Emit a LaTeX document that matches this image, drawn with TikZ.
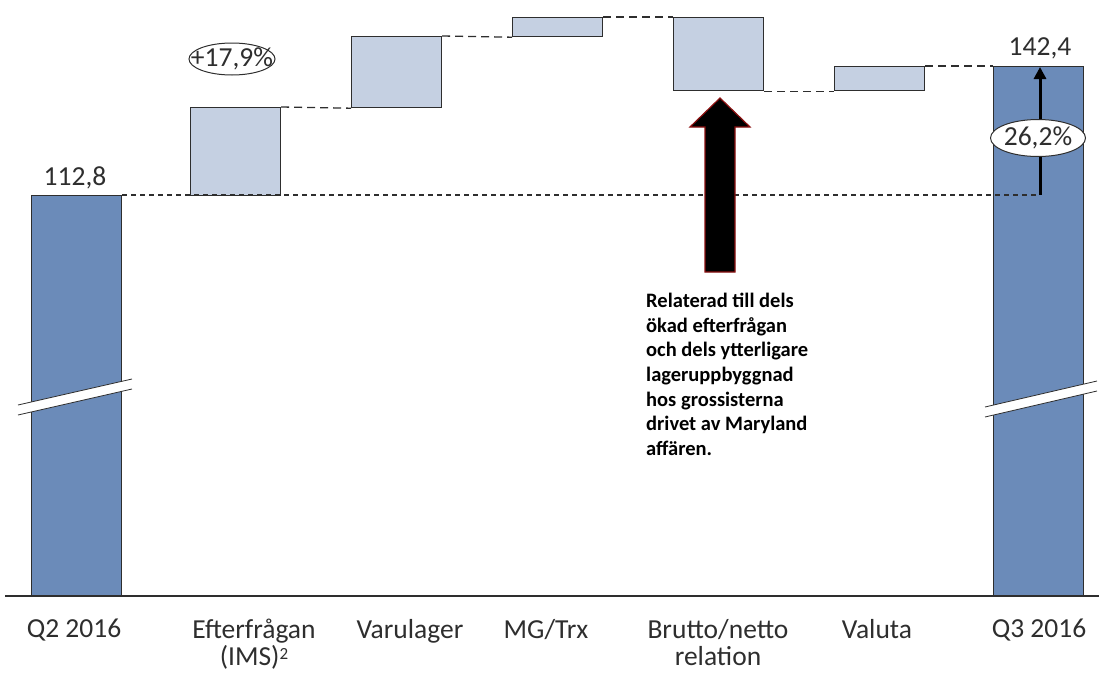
\documentclass[tikz,border=0pt]{standalone}
\usepackage{fontspec}
\setmainfont{Carlito}
\usetikzlibrary{shapes.geometric,arrows.meta}
\definecolor{darkbar}{HTML}{6B8BB9}
\definecolor{lightbar}{HTML}{C5D0E2}
\definecolor{edge}{HTML}{2E2E2E}
\definecolor{arrowred}{HTML}{8B1010}
\tikzset{
  barbase/.style={draw=edge, line width=1.2pt, anchor=north west, inner sep=0pt, minimum width=90pt},
  darkbox/.style={barbase, fill=darkbar},
  lightbox/.style={barbase, fill=lightbar},
  link/.style={edge, line width=1.3pt, dash pattern=on 8pt off 5pt},
  baselink/.style={edge, line width=1.2pt, dash pattern=on 5pt off 4pt},
  lbl/.style={font=\fontsize{27.5}{27}\selectfont, text=edge, align=center, inner sep=0pt},
  note/.style={font=\bfseries\fontsize{20.5}{24.6}\selectfont, align=left, inner sep=0pt, anchor=north west},
}
\begin{document}
\begin{tikzpicture}[x=1pt,y=-1pt]
\useasboundingbox (0,0) rectangle (1099,672);
% bars
\node[darkbox, minimum height=401pt] (q2) at (31,195) {};
\node[lightbox, minimum height=88pt] (eff) at (190,107) {};
\node[lightbox, minimum height=71pt] (var) at (351,36) {};
\node[lightbox, minimum height=19pt] (mg) at (512,17) {};
\node[lightbox, minimum height=73pt] (br) at (673,17) {};
\node[lightbox, minimum height=24pt] (val) at (834,66) {};
\node[darkbox, minimum height=530pt] (q3) at (993,66) {};
% axis
\coordinate (axl) at (5,596);
\coordinate (axr) at (1099,596);
\draw[edge, line width=1.2pt] (axl) -- (axr);
% break marks
\fill[white] (18,405) -- (132,379) -- (132,389) -- (18,415) -- cycle;
\draw[edge, line width=0.8pt] (18,405) -- (132,379);
\draw[edge, line width=0.8pt] (18,415) -- (132,389);
\fill[white] (985,407) -- (1097,381) -- (1097,391) -- (985,417) -- cycle;
\draw[edge, line width=0.8pt] (985,407) -- (1097,381);
\draw[edge, line width=0.8pt] (985,417) -- (1097,391);
% connectors
\coordinate (abase) at (1040,195);
\coordinate (atop) at (1040,67);
\draw[baselink] (q2.north east) -- (abase);
\draw[link] (eff.north east) -- (var.south west);
\draw[link] (var.north east) -- (mg.south west);
\draw[link] (mg.north east) -- (br.north west);
\draw[link] (br.south east) -- (val.south west);
\draw[link] (val.north east) -- (q3.north west);
% growth arrow
\draw[black, line width=3pt, -{Triangle[length=12pt,width=12pt]}] (abase) -- (atop);
\node[ellipse, draw=edge, fill=white, line width=1pt, minimum width=95pt, minimum height=37pt, inner sep=0pt] (e2) at (1038,138) {};
\node[lbl] at (e2) {26,2\%};
\node[ellipse, draw=edge, line width=1pt, minimum width=86pt, minimum height=32pt, inner sep=0pt] (e1) at (232,59) {};
\node[lbl] at (e1) {+17,9\%};
% values
\node[lbl] (v1) at (75,178) {112,8};
\node[lbl] (v2) at (1040,48) {142,4};
% block arrow
\filldraw[fill=black, draw=arrowred, line width=1.2pt] (720,98) -- (750,127) -- (735,127) -- (735,272) -- (705,272) -- (705,127) -- (690,127) -- cycle;
% note
\node[note] (nt) at (646,293) {Relaterad till dels\\ökad efterfrågan\\och dels ytterligare\\lageruppbyggnad\\hos grossisterna\\drivet av Maryland\\affären.};
% category labels
\node[lbl, anchor=north] (c1) at (74,619) {Q2 2016};
\node[lbl, anchor=north] (c2) at (254,619) {Efterfrågan\\(IMS)\raisebox{6pt}{\fontsize{17}{17}\selectfont 2}};
\node[lbl, anchor=north] (c3) at (410,619) {Varulager};
\node[lbl, anchor=north] (c4) at (546,619) {MG/Trx};
\node[lbl, anchor=north] (c5) at (718,619) {Brutto/netto\\relation};
\node[lbl, anchor=north] (c6) at (877,619) {Valuta};
\node[lbl, anchor=north] (c7) at (1039,619) {Q3 2016};
\end{tikzpicture}
\end{document}
